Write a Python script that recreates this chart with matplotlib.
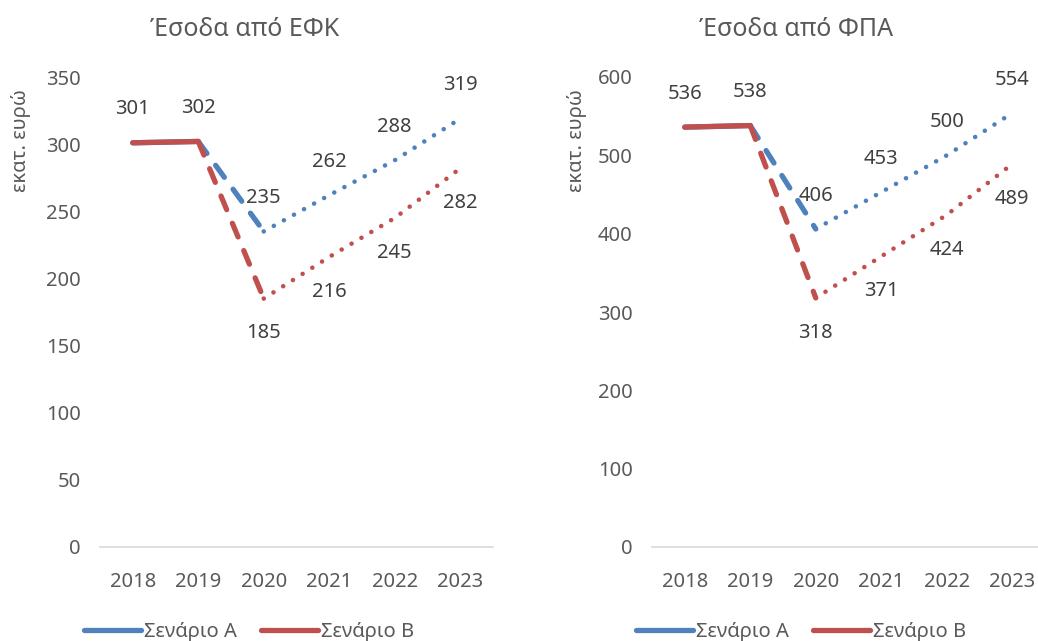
import matplotlib
matplotlib.use("Agg")
import matplotlib.pyplot as plt
from matplotlib.lines import Line2D

plt.rcParams['font.family'] = ['Noto Sans', 'DejaVu Sans']

years = ["2018", "2019", "2020", "2021", "2022", "2023"]
efk_a = [301, 302, 235, 262, 288, 319]
efk_b = [301, 302, 185, 216, 245, 282]
fpa_a = [536, 538, 406, 453, 500, 554]
fpa_b = [536, 538, 318, 371, 424, 489]

BLUE, RED = "#4F81BD", "#C0504D"
TXT, LBL = "#595959", "#404040"

fig = plt.figure(figsize=(10.38, 6.41), dpi=100)
ax1 = fig.add_axes([100/1038, 1-547/641, 393/1038, 470/641])
ax2 = fig.add_axes([652/1038, 1-547/641, 393/1038, 470/641])


def draw_series(ax, vals, color):
    x = list(range(len(vals)))
    ax.plot(x[0:2], vals[0:2], color=color, lw=3.8, solid_capstyle="round")
    ax.plot(x[1:3], vals[1:3], color=color, lw=3.8, linestyle=(0, (2.8, 2.8)),
            dash_capstyle="round")
    ax.plot(x[2:], vals[2:], color=color, lw=3.3, linestyle=(0, (0.01, 2.5)),
            dash_capstyle="round")


def panel(ax, a, b, ymax, step, title, tx):
    draw_series(ax, a, BLUE)
    draw_series(ax, b, RED)
    for i, (va, vb) in enumerate(zip(a, b)):
        ax.annotate(str(va), (i, va), xytext=(0, 24), textcoords="offset points",
                    ha="center", va="center", fontsize=14.5, color=LBL)
        if i >= 2:
            ax.annotate(str(vb), (i, vb), xytext=(0, -25), textcoords="offset points",
                        ha="center", va="center", fontsize=14.5, color=LBL)
    ax.set_xlim(-0.5, 5.5)
    ax.set_ylim(0, ymax)
    ax.set_yticks(range(0, ymax + 1, step))
    ax.set_xticks(range(len(years)))
    ax.set_xticklabels(years)
    for s in ["top", "right", "left"]:
        ax.spines[s].set_visible(False)
    ax.spines["bottom"].set_color("#D9D9D9")
    ax.spines["bottom"].set_linewidth(1.2)
    ax.tick_params(length=0, labelsize=14.5, colors=TXT)
    ax.tick_params(axis="x", pad=18)
    ax.tick_params(axis="y", pad=14)
    fig.text(tx, 1 - 30/641, title, ha="center", va="center", fontsize=18, color=TXT)
    handles = [Line2D([], [], color=BLUE, lw=3.8, solid_capstyle="round"),
               Line2D([], [], color=RED, lw=3.8, solid_capstyle="round")]
    return handles


h = panel(ax1, efk_a, efk_b, 350, 50, "Έσοδα από ΕΦΚ", 245/1038)
panel(ax2, fpa_a, fpa_b, 600, 100, "Έσοδα από ΦΠΑ", 796/1038)

fig.text(21/1038, 1 - 141/641, "εκατ. ευρώ", rotation=90, ha="center", va="center",
         fontsize=14.5, color=TXT)
fig.text(577/1038, 1 - 141/641, "εκατ. ευρώ", rotation=90, ha="center", va="center",
         fontsize=14.5, color=TXT)

for cx in (249/1038, 801/1038):
    leg = fig.legend(h, ["Σενάριο A", "Σενάριο B"], loc="center",
                     bbox_to_anchor=(cx, 1 - 632/641), ncol=2, frameon=False,
                     fontsize=14.5, handlelength=2.85, handletextpad=0.15,
                     columnspacing=1.2, labelcolor=TXT)

fig.savefig("out.png", dpi=100)
